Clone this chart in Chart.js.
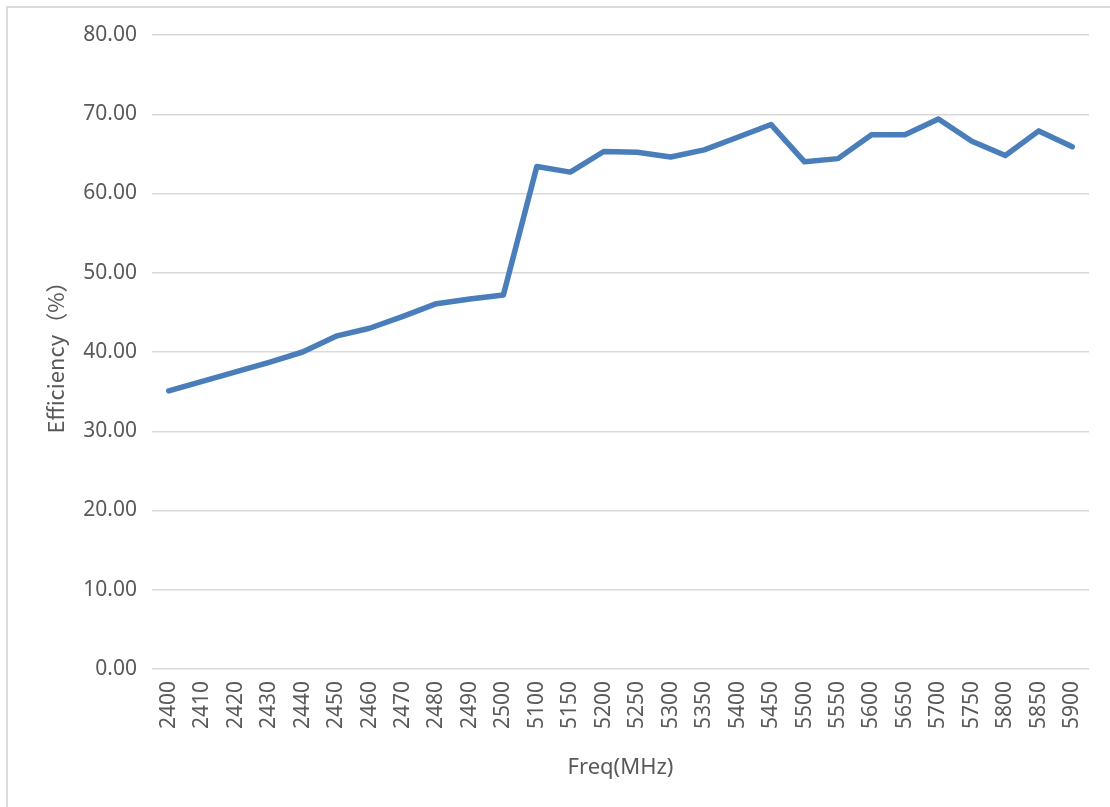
<!DOCTYPE html>
<html>
<head>
<meta charset="utf-8">
<script src="https://cdn.jsdelivr.net/npm/chart.js@4"></script>
<style>
  html, body { margin: 0; padding: 0; background: #ffffff; }
  #wrap { position: relative; width: 1110px; height: 807px; overflow: hidden; }
  #frame { position: absolute; left: 6px; top: 6px; width: 1110px; height: 807px;
           border-left: 2px solid #dcdcdc; border-top: 2px solid #dcdcdc; box-sizing: border-box; pointer-events: none; }
  canvas { position: absolute; left: 0; top: 0; }
</style>
</head>
<body>
<div id="wrap">
  <canvas id="c" width="1110" height="807"></canvas>
  <div id="frame"></div>
</div>
<script>
const categories = ["2400","2410","2420","2430","2440","2450","2460","2470","2480","2490","2500",
  "5100","5150","5200","5250","5300","5350","5400","5450","5500","5550","5600","5650","5700","5750","5800","5850","5900"];
const efficiency = [35.1, 36.3, 37.5, 38.7, 40.0, 42.0, 43.0, 44.5, 46.1, 46.7, 47.2,
  63.4, 62.7, 65.3, 65.2, 64.6, 65.5, 67.1, 68.7, 64.0, 64.4, 67.4, 67.4, 69.4, 66.6, 64.8, 67.9, 65.9];
const yTicks = { min: 0, max: 80, step: 10 };
const xTitle = "Freq(MHz)";
const yTitle = "Efficiency（%）";

const textColor = "#595959";
const fontFamily = "'Noto Sans', 'Noto Sans CJK SC', sans-serif";
const cjkFamily = "'Noto Sans CJK SC', 'Noto Sans', sans-serif";

new Chart(document.getElementById("c"), {
  type: "line",
  data: {
    labels: categories,
    datasets: [{
      label: "Efficiency",
      data: efficiency,
      borderColor: "#4a7ebb",
      borderWidth: 5.5,
      pointRadius: 0,
      pointHoverRadius: 0,
      tension: 0,
      fill: false,
      borderJoinStyle: "round",
      borderCapStyle: "round"
    }]
  },
  options: {
    responsive: false,
    animation: false,
    devicePixelRatio: 1,
    layout: { padding: { top: 35, right: 21, bottom: 0, left: 0 } },
    plugins: { legend: { display: false }, tooltip: { enabled: false }, title: { display: false } },
    scales: {
      x: {
        offset: true,
        grid: { display: false, drawTicks: false },
        border: { display: false },
        ticks: {
          color: textColor,
          font: { family: fontFamily, size: 21 },
          maxRotation: 90, minRotation: 90,
          autoSkip: false,
          padding: 12
        },
        title: {
          display: true, text: xTitle, color: textColor,
          font: { family: fontFamily, size: 22 },
          padding: { top: 0, bottom: 26 }
        },
        afterFit: (s) => { s.height = 807 - 669; }
      },
      y: {
        min: yTicks.min, max: yTicks.max,
        grid: { color: "#d9d9d9", lineWidth: 1.5, drawTicks: false },
        border: { display: false },
        ticks: {
          stepSize: yTicks.step,
          color: textColor,
          font: { family: fontFamily, size: 21 },
          padding: 15,
          callback: (v) => Number(v).toFixed(2)
        },
        title: {
          display: true, text: yTitle, color: textColor,
          font: { family: cjkFamily, size: 22 },
          padding: { top: 42, bottom: 0 }
        },
        afterFit: (s) => { s.width = 152; }
      }
    }
  }
});
</script>
</body>
</html>
